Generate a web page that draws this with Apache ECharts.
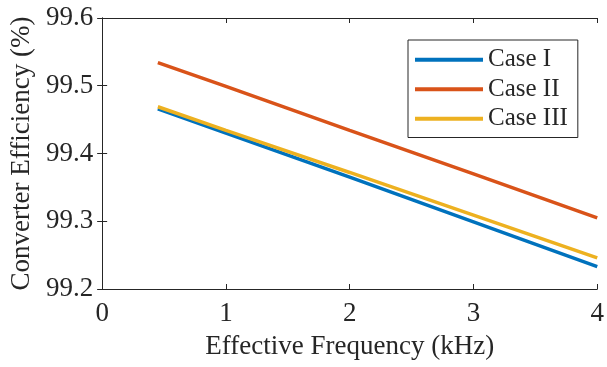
<!DOCTYPE html>
<html>
<head>
<meta charset="utf-8">
<script src="https://cdn.jsdelivr.net/npm/echarts@6/dist/echarts.min.js"></script>
<style>
  html, body { margin: 0; padding: 0; background: #fff; }
  #chart { width: 607px; height: 367px; }
</style>
</head>
<body>
<div id="chart"></div>
<script>
// data
const freq = [0.45, 1, 2, 3, 4];
const caseI = [99.466, 99.430, 99.365, 99.299, 99.233];
const caseII = [99.534, 99.499, 99.434, 99.370, 99.305];
const caseIII = [99.469, 99.434, 99.372, 99.309, 99.246];
const seriesNames = ["Case I", "Case II", "Case III"];
const colors = ["#0072BD", "#D95319", "#EDB120"];

const font = "Liberation Serif";
const axisColor = "#262626";

const pairs = (ys) => freq.map((x, i) => [x, ys[i]]);

const myChart = echarts.init(document.getElementById("chart"));

const baseAxis = {
    type: "value",
    axisLine: { show: true, lineStyle: { color: axisColor, width: 1 } },
    axisTick: { show: true, inside: true, length: 5, lineStyle: { color: axisColor } },
    splitLine: { show: false },
};

const option = {
    animation: false,
    color: colors,
    grid: { left: 101, right: 7, top: 18, bottom: 78, show: false },
    legend: {
        orient: "vertical",
        left: 408,
        top: 40,
        data: seriesNames,
        icon: "rect",
        itemWidth: 68,
        itemHeight: 4,
        itemGap: 4,
        padding: [7, 10, 6, 7],
        borderColor: axisColor,
        borderWidth: 1,
        backgroundColor: "#fff",
        textStyle: { fontFamily: font, fontSize: 25, lineHeight: 25.5, color: "#262626" },
    },
    xAxis: [
        {
            ...baseAxis,
            min: 0,
            max: 4,
            interval: 1,
            name: "Effective Frequency (kHz)",
            nameLocation: "middle",
            nameGap: 44,
            nameTextStyle: { fontFamily: font, fontSize: 27, color: "#262626" },
            axisLabel: { fontFamily: font, fontSize: 27, color: "#262626", margin: 11 },
        },
        {
            ...baseAxis,
            position: "top",
            min: 0,
            max: 4,
            interval: 1,
            axisLabel: { show: false },
        },
    ],
    yAxis: [
        {
            ...baseAxis,
            min: 99.2,
            max: 99.6,
            interval: 0.1,
            name: "Converter Efficiency (%)",
            nameLocation: "middle",
            nameGap: 66,
            nameTextStyle: { fontFamily: font, fontSize: 27, color: "#262626" },
            axisLabel: {
                fontFamily: font,
                fontSize: 27,
                color: "#262626",
                margin: 9,
                formatter: (v) => v.toFixed(1),
            },
        },
        {
            ...baseAxis,
            position: "right",
            min: 99.2,
            max: 99.6,
            interval: 0.1,
            axisLabel: { show: false },
        },
    ],
    series: [caseI, caseII, caseIII].map((ys, i) => ({
        name: seriesNames[i],
        type: "line",
        data: pairs(ys),
        showSymbol: false,
        symbol: "none",
        lineStyle: { width: 3.5, color: colors[i] },
        z: 2 + (i === 2 ? 1 : 0),
    })),
};

myChart.setOption(option);
</script>
</body>
</html>
